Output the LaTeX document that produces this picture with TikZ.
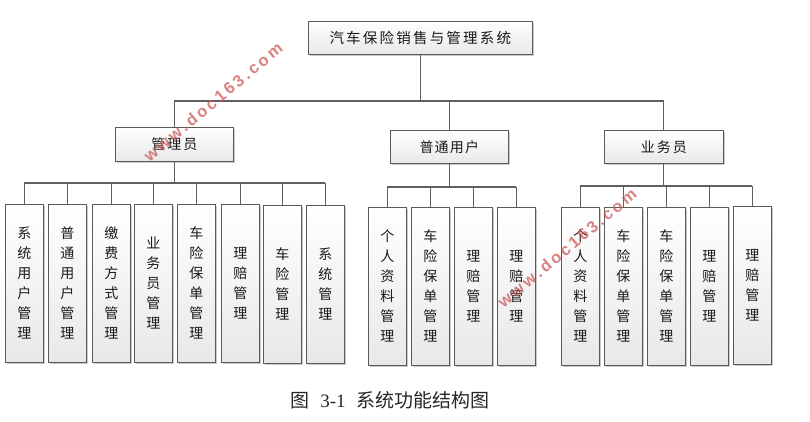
\documentclass[tikz,border=0pt]{standalone}
\usepackage{fontspec}
\setmainfont{Liberation Serif}
\newfontfamily\cjk{Noto Sans CJK SC}
\newfontfamily\wmfont{Liberation Sans}
\usetikzlibrary{shadows}
\definecolor{wmred}{RGB}{205,88,88}
\definecolor{lnc}{RGB}{95,95,95}
\definecolor{bdc}{RGB}{90,90,90}
\def\lsText#1#2{\def\lsK{#1}\lsFirst#2\relax}
\def\lsFirst#1{#1\lsLoop}
\def\lsLoop#1{\ifx#1\relax\else\kern\lsK\relax#1\expandafter\lsLoop\fi}
\tikzset{
  boxbase/.style={draw=bdc, line width=0.6pt, top color=white, bottom color=black!9,
    drop shadow={shadow xshift=1.8pt, shadow yshift=-1.8pt, opacity=0.35, fill=black!60},
    font=\cjk\fontsize{14}{20}\selectfont, inner sep=0pt, anchor=north west, text=black!90},
  leaf/.style={boxbase, minimum width=38pt, minimum height=158pt, align=center},
  midbox/.style={boxbase, minimum height=34pt},
  conn/.style={draw=lnc, line width=1.2pt},
  wm/.style={font=\wmfont\bfseries\fontsize{16.5}{17}\selectfont, text=wmred, opacity=0.75, inner sep=0pt},
}
\begin{document}
\begin{tikzpicture}[x=1pt,y=-1pt]
\useasboundingbox (0,0) rectangle (810,422);
% top
\node[boxbase, minimum width=224pt, minimum height=33pt, font=\cjk\fontsize{14.5}{16}\selectfont] (root) at (308,21) {\lsText{2.2pt}{汽车保险销售与管理系统}};
% middle
\node[midbox, minimum width=118pt] (mgr) at (115,127) {\lsText{2pt}{管理员}};
\node[midbox, minimum width=118pt, minimum height=33pt] (usr) at (390,130) {\lsText{1.2pt}{普通用户}};
\node[midbox, minimum width=119pt, minimum height=33pt] (sal) at (604,130) {\lsText{2pt}{业务员}};
% bus coordinates
\coordinate (tb) at (0,101);
\coordinate (mb) at (0,183);
\coordinate (ub) at (0,187);
\coordinate (sb) at (0,186);
% manager leaves
\node[leaf] (m1) at (5,204) {系\\统\\用\\户\\管\\理};
\node[leaf] (m2) at (48,204) {普\\通\\用\\户\\管\\理};
\node[leaf] (m3) at (92,204) {缴\\费\\方\\式\\管\\理};
\node[leaf] (m4) at (134,204) {业\\务\\员\\管\\理};
\node[leaf] (m5) at (177,204) {车\\险\\保\\单\\管\\理};
\node[leaf] (m6) at (221,204) {理\\赔\\管\\理};
\node[leaf] (m7) at (263,205) {车\\险\\管\\理};
\node[leaf] (m8) at (306,205) {系\\统\\管\\理};
% user leaves
\node[leaf] (u1) at (368,207) {个\\人\\资\\料\\管\\理};
\node[leaf] (u2) at (411,207) {车\\险\\保\\单\\管\\理};
\node[leaf] (u3) at (454,207) {理\\赔\\管\\理};
\node[leaf] (u4) at (497,207) {理\\赔\\管\\理};
% sales leaves
\node[leaf] (s1) at (561,207) {个\\人\\资\\料\\管\\理};
\node[leaf] (s2) at (604,207) {车\\险\\保\\单\\管\\理};
\node[leaf] (s3) at (647,207) {车\\险\\保\\单\\管\\理};
\node[leaf] (s4) at (690,207) {理\\赔\\管\\理};
\node[leaf] (s5) at (733,206) {理\\赔\\管\\理};
% connectors top level
\draw[conn] (root.south) -- (root.south |- tb);
\draw[conn] (mgr.north |- tb) -- (sal.north |- tb);
\draw[conn] (mgr.north |- tb) -- (mgr.north);
\draw[conn] (usr.north |- tb) -- (usr.north);
\draw[conn] (sal.north |- tb) -- (sal.north);
% manager group
\draw[conn] (mgr.south) -- (mgr.south |- mb);
\draw[conn] (m1.north |- mb) -- (m8.north |- mb);
\foreach \n in {m1,m2,m3,m4,m5,m6,m7,m8}{\draw[conn] (\n.north |- mb) -- (\n.north);}
% user group
\draw[conn] (usr.south) -- (usr.south |- ub);
\draw[conn] (u1.north |- ub) -- (u4.north |- ub);
\foreach \n in {u1,u2,u3,u4}{\draw[conn] (\n.north |- ub) -- (\n.north);}
% sales group
\draw[conn] (sal.south) -- (sal.south |- sb);
\draw[conn] (s1.north |- sb) -- (s5.north |- sb);
\foreach \n in {s1,s2,s3,s4,s5}{\draw[conn] (\n.north |- sb) -- (\n.north);}
% caption
\node[inner sep=0pt, text=black!85, font=\fontsize{19}{20}\selectfont] (cap) at (390,400) {{\cjk 图}\hspace{0.55em}3-1\hspace{0.55em}{\cjk 系统功能结构图}};
% watermarks
\node[wm, rotate=40] (wm1) at (213,102) {\lsText{2.8pt}{www.doc163.com}};
\node[wm, rotate=40] (wm2) at (567,248) {\lsText{2.8pt}{www.doc163.com}};
\end{tikzpicture}
\end{document}
